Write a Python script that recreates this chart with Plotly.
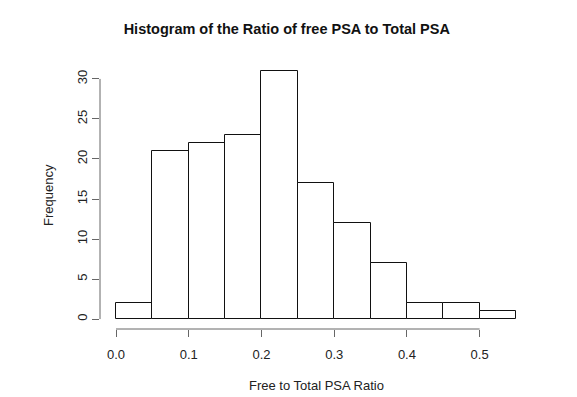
import plotly.graph_objects as go

bin_edges = [0.0, 0.05, 0.10, 0.15, 0.20, 0.25, 0.30, 0.35, 0.40, 0.45, 0.50, 0.55]
counts = [2, 21, 22, 23, 31, 17, 12, 7, 2, 2, 1]
x_ticks = [0.0, 0.1, 0.2, 0.3, 0.4, 0.5]
x_ticktext = ["0.0", "0.1", "0.2", "0.3", "0.4", "0.5"]
y_ticks = [0, 5, 10, 15, 20, 25, 30]

mids = [(a + b) / 2 for a, b in zip(bin_edges[:-1], bin_edges[1:])]
widths = [b - a for a, b in zip(bin_edges[:-1], bin_edges[1:])]

FONT = "Liberation Sans, Arial, Helvetica, sans-serif"

fig = go.Figure()
fig.add_trace(go.Bar(
    x=mids, y=counts, width=widths,
    marker=dict(color="white", line=dict(color="#111", width=1)),
    hoverinfo="x+y", showlegend=False,
))

xr = bin_edges[-1] - bin_edges[0]
yr = max(counts)
fig.update_layout(
    width=577, height=397,
    margin=dict(l=100, r=45, t=61, b=68),
    paper_bgcolor="white", plot_bgcolor="white",
    bargap=0,
    font=dict(family=FONT, size=13, color="#222"),
    title=dict(text="<b>Histogram of the Ratio of free PSA to Total PSA</b>",
               x=0.497, xref="container", xanchor="center",
               y=1 - 29 / 397, yref="container", yanchor="middle",
               font=dict(size=14.5, color="#111", family=FONT)),
    xaxis=dict(range=[bin_edges[0] - 0.04 * xr, bin_edges[-1] + 0.04 * xr],
               tickvals=x_ticks, ticktext=x_ticktext,
               ticks="outside", ticklen=7, tickcolor="#666", tickwidth=1,
               showline=False, showgrid=False, zeroline=False,
               ticklabelstandoff=6),
    yaxis=dict(range=[-0.04 * yr, yr * 1.04],
               tickvals=y_ticks, tickangle=-90,
               ticks="outside", ticklen=7, tickcolor="#666", tickwidth=1,
               showline=False, showgrid=False, zeroline=False),
    shapes=[
        dict(type="line", xref="x", yref="paper", x0=x_ticks[0], x1=x_ticks[-1],
             y0=0, y1=0, line=dict(color="#666", width=1)),
        dict(type="line", xref="paper", yref="y", x0=0, x1=0,
             y0=y_ticks[0], y1=y_ticks[-1], line=dict(color="#666", width=1)),
    ],
    annotations=[
        dict(text="Free to Total PSA Ratio", xref="paper", yref="paper",
             x=0.5, y=(329 - 385) / 268, xanchor="center", yanchor="middle",
             showarrow=False, font=dict(size=13, color="#222")),
        dict(text="Frequency", xref="paper", yref="paper",
             x=(48 - 100) / 432, y=0.5, xanchor="center", yanchor="middle",
             textangle=-90, showarrow=False, font=dict(size=13, color="#222")),
    ],
)

fig.write_html("out.html",
               config={"displayModeBar": False},
               post_script="document.body.style.margin='0';document.body.style.overflow='hidden';")
